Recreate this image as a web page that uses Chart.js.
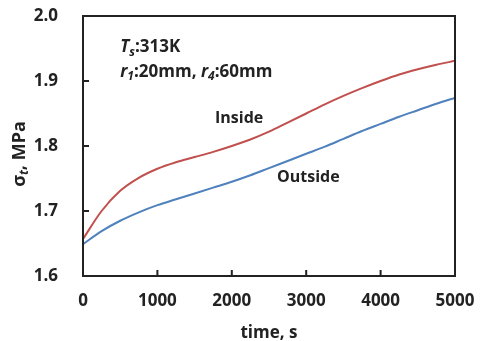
<!DOCTYPE html>
<html>
<head>
<meta charset="utf-8">
<script src="https://cdn.jsdelivr.net/npm/chart.js@4"></script>
<style>
	html, body { margin: 0; padding: 0; background: #fff; }
	#wrap { width: 481px; height: 341px; }
</style>
</head>
<body>
<div id="wrap"><canvas id="myChart" width="481" height="341"></canvas></div>
<script>
// temps (s)
const times = [0, 250, 500, 750, 1000, 1250, 1500, 1750, 2000, 2250, 2500, 2750, 3000, 3250, 3500, 3750, 4000, 4250, 4500, 4750, 5000];
// contrainte cote interieur / exterieur (MPa)
const inside = [1.657, 1.700, 1.731, 1.751, 1.765, 1.775, 1.783, 1.791, 1.800, 1.810, 1.822, 1.836, 1.850, 1.864, 1.877, 1.889, 1.900, 1.910, 1.918, 1.925, 1.931];
const outside = [1.649, 1.669, 1.685, 1.698, 1.709, 1.718, 1.727, 1.736, 1.745, 1.755, 1.766, 1.777, 1.788, 1.799, 1.811, 1.823, 1.834, 1.845, 1.855, 1.865, 1.874];
const xTicks = [0, 1000, 2000, 3000, 4000, 5000];
const yTicks = [1.6, 1.7, 1.8, 1.9, 2.0];

const FONT = '"Open Sans", "Liberation Sans", sans-serif';

// textes et petits traits de graduation
const decorPlugin = {
	id: 'decor',
	afterDraw(chart) {
		const ctx = chart.ctx;
		const a = chart.chartArea;
		const xs = chart.scales.x, ys = chart.scales.y;
		ctx.save();

		// cadre
		ctx.strokeStyle = '#222';
		ctx.lineWidth = 2;
		ctx.strokeRect(a.left, a.top, a.right - a.left, a.bottom - a.top);

		// graduations vers l'interieur
		ctx.beginPath();
		yTicks.forEach(v => {
			const y = ys.getPixelForValue(v);
			ctx.moveTo(a.left, y); ctx.lineTo(a.left + 6, y);
		});
		xTicks.forEach(v => {
			const x = xs.getPixelForValue(v);
			ctx.moveTo(x, a.bottom); ctx.lineTo(x, a.bottom - 6);
		});
		ctx.stroke();

		ctx.fillStyle = '#222';
		ctx.textBaseline = 'middle';
		ctx.textAlign = 'left';

		// morceaux de texte : [texte, italique, indice]
		const drawParts = (parts, x, y) => {
			parts.forEach(p => {
				const sz = p[2] ? 12 : 17;
				ctx.font = (p[1] ? 'italic ' : '') + 'bold ' + sz + 'px ' + FONT;
				ctx.fillText(p[0], x, p[2] ? y + 5 : y);
				x += ctx.measureText(p[0]).width;
			});
		};

		drawParts([['T', true, false], ['s', true, true], [':313K', false, false]],
			xs.getPixelForValue(500), ys.getPixelForValue(1.952));
		drawParts([['r', true, false], ['1', true, true], [':20mm, ', false, false],
			['r', true, false], ['4', true, true], [':60mm', false, false]],
			xs.getPixelForValue(500), ys.getPixelForValue(1.914));

		// etiquettes des courbes
		ctx.font = 'bold 16px ' + FONT;
		ctx.fillText('Inside', xs.getPixelForValue(1774), ys.getPixelForValue(1.843));
		ctx.fillText('Outside', xs.getPixelForValue(2608), ys.getPixelForValue(1.751));

		// titre de l'axe y : sigma_t, MPa
		ctx.translate(20, 154);
		ctx.rotate(-Math.PI / 2);
		ctx.font = 'bold 18px ' + FONT;
		const w1 = ctx.measureText('σ').width;
		const w3 = ctx.measureText(', MPa').width;
		ctx.font = 'italic bold 12px ' + FONT;
		const w2 = ctx.measureText('t').width;
		let sx = -(w1 + w2 + w3) / 2;
		ctx.font = 'bold 18px ' + FONT;
		ctx.fillText('σ', sx, 0);
		sx += w1;
		ctx.font = 'italic bold 12px ' + FONT;
		ctx.fillText('t', sx, 5);
		sx += w2;
		ctx.font = 'bold 18px ' + FONT;
		ctx.fillText(', MPa', sx, 0);

		ctx.restore();
	}
};

const ctx = document.getElementById('myChart').getContext('2d');
const myChart = new Chart(ctx, {
	type: 'line',
	data: {
		datasets: [
			{
				label: 'Inside',
				data: times.map((t, i) => ({ x: t, y: inside[i] })),
				borderColor: '#C0504D',
				borderWidth: 2,
				pointRadius: 0,
				cubicInterpolationMode: 'monotone'
			},
			{
				label: 'Outside',
				data: times.map((t, i) => ({ x: t, y: outside[i] })),
				borderColor: '#4F81BD',
				borderWidth: 2,
				pointRadius: 0,
				cubicInterpolationMode: 'monotone'
			}
		]
	},
	options: {
		responsive: false,
		animation: false,
		layout: { padding: { top: 16, right: 26, left: 0, bottom: 0 } },
		plugins: {
			legend: { display: false },
			tooltip: { enabled: false }
		},
		scales: {
			x: {
				type: 'linear',
				min: 0,
				max: 5000,
				grid: { display: false, drawTicks: false },
				border: { display: false },
				afterBuildTicks: s => { s.ticks = xTicks.map(v => ({ value: v })); },
				afterFit: s => { s.height = 65; s.paddingLeft = 0; s.paddingRight = 0; },
				ticks: {
					padding: 15,
					color: '#222',
					font: { family: FONT, size: 17, weight: 'bold' },
					maxRotation: 0,
					callback: v => String(v)
				},
				title: {
					display: true,
					text: 'time, s',
					color: '#222',
					padding: { top: 0, bottom: -2 },
					font: { family: FONT, size: 17, weight: 'bold' }
				}
			},
			y: {
				type: 'linear',
				min: 1.6,
				max: 2.0,
				grid: { display: false, drawTicks: false },
				border: { display: false },
				afterBuildTicks: s => { s.ticks = yTicks.map(v => ({ value: v })); },
				afterFit: s => { s.width = 83; s.paddingTop = 0; s.paddingBottom = 0; },
				ticks: {
					padding: 25,
					color: '#222',
					font: { family: FONT, size: 17, weight: 'bold' },
					callback: v => v.toFixed(1)
				}
			}
		}
	},
	plugins: [decorPlugin]
});
</script>
</body>
</html>
